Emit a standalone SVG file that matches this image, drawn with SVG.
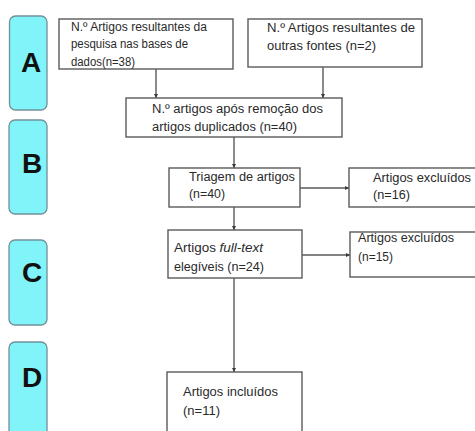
<svg xmlns="http://www.w3.org/2000/svg" width="475" height="431" viewBox="0 0 475 431">
<defs>
<style>
.bar{fill:#80F4F8;stroke:#71909A;stroke-width:1.3}
.lt{font-family:"Liberation Sans",Arial,sans-serif;font-weight:bold;font-size:28px;fill:#111;text-anchor:middle}
.box{fill:#fff;stroke:#5a5a5a;stroke-width:1.4}
.t{font-family:"Liberation Sans",Arial,sans-serif;font-size:12.5px;fill:#2a2a2a}
.c{stroke:#5a5a5a;stroke-width:1.4;fill:none;marker-end:url(#ah)}
</style>
<marker id="ah" viewBox="0 0 6 6" refX="6" refY="3" markerWidth="4" markerHeight="4" orient="auto" markerUnits="userSpaceOnUse">
<path d="M0,0 L6,3 L0,6 z" fill="#3a3a3a"/>
</marker>
</defs>
<rect width="475" height="431" fill="#fff"/>

<g id="stageA"><rect class="bar" x="9.5" y="16" width="37.5" height="94" rx="6"/><text class="lt" x="31" y="72">A</text></g>
<g id="stageB"><rect class="bar" x="9" y="120" width="38" height="94" rx="6"/><text class="lt" x="32" y="173">B</text></g>
<g id="stageC"><rect class="bar" x="9" y="240" width="38" height="85" rx="6"/><text class="lt" x="32" y="282">C</text></g>
<g id="stageD"><rect class="bar" x="9" y="342" width="38" height="100" rx="6"/><text class="lt" x="32" y="387">D</text></g>

<g id="connectors">
<line class="c" x1="156" y1="69" x2="156" y2="98"/>
<line class="c" x1="323" y1="67" x2="323" y2="98"/>
<line class="c" x1="234" y1="137" x2="234" y2="168"/>
<line class="c" x1="300" y1="188" x2="349" y2="188"/>
<line class="c" x1="234" y1="207" x2="234" y2="230"/>
<line class="c" x1="302" y1="255" x2="350" y2="255"/>
<line class="c" x1="234" y1="278" x2="234" y2="372"/>
</g>

<g id="n1"><rect class="box" x="59" y="19" width="174" height="50"/>
<text class="t" x="71" y="31" textLength="136" lengthAdjust="spacingAndGlyphs">N.º Artigos resultantes da</text>
<text class="t" x="71" y="48" textLength="117" lengthAdjust="spacingAndGlyphs">pesquisa nas bases de</text>
<text class="t" x="71" y="66" textLength="64" lengthAdjust="spacingAndGlyphs">dados(n=38)</text></g>

<g id="n2"><rect class="box" x="248" y="19" width="174" height="48"/>
<text class="t" x="267" y="32" textLength="148" lengthAdjust="spacingAndGlyphs">N.º Artigos resultantes de</text>
<text class="t" x="267" y="50" textLength="109" lengthAdjust="spacingAndGlyphs">outras fontes (n=2)</text></g>

<g id="n3"><rect class="box" x="126" y="98" width="216" height="39"/>
<text class="t" x="152" y="113" textLength="171" lengthAdjust="spacingAndGlyphs">N.º artigos após remoção  dos</text>
<text class="t" x="152" y="131" textLength="145" lengthAdjust="spacingAndGlyphs">artigos duplicados (n=40)</text></g>

<g id="n4"><rect class="box" x="169" y="168" width="131" height="39"/>
<text class="t" x="189" y="181" textLength="106" lengthAdjust="spacingAndGlyphs">Triagem de artigos</text>
<text class="t" x="189" y="198" textLength="36" lengthAdjust="spacingAndGlyphs">(n=40)</text></g>

<g id="n5"><rect class="box" x="349" y="168" width="130" height="39"/>
<text class="t" x="373" y="182" textLength="98" lengthAdjust="spacingAndGlyphs">Artigos excluídos</text>
<text class="t" x="373" y="199" textLength="37" lengthAdjust="spacingAndGlyphs">(n=16)</text></g>

<g id="n6"><rect class="box" x="168" y="230" width="134" height="48"/>
<text class="t" x="174" y="252" textLength="89" lengthAdjust="spacingAndGlyphs">Artigos <tspan font-style="italic">full-text</tspan></text>
<text class="t" x="174" y="271" textLength="90" lengthAdjust="spacingAndGlyphs">elegíveis (n=24)</text></g>

<g id="n7"><rect class="box" x="350" y="232" width="130" height="45"/>
<text class="t" x="358" y="242" textLength="96" lengthAdjust="spacingAndGlyphs">Artigos excluídos</text>
<text class="t" x="358" y="261" textLength="35" lengthAdjust="spacingAndGlyphs">(n=15)</text></g>

<g id="n8"><rect class="box" x="167" y="372" width="135" height="70"/>
<text class="t" x="183" y="396" textLength="95" lengthAdjust="spacingAndGlyphs">Artigos incluídos</text>
<text class="t" x="183" y="415" textLength="37" lengthAdjust="spacingAndGlyphs">(n=11)</text></g>
</svg>
